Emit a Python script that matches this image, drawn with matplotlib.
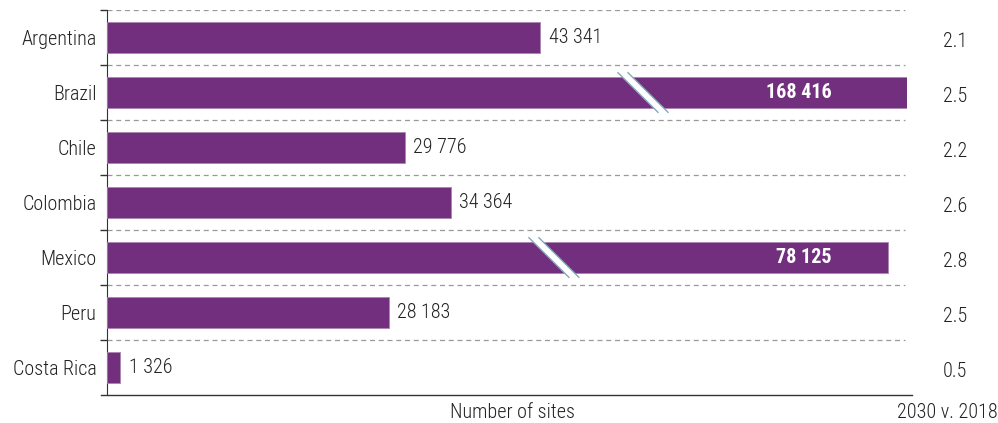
import matplotlib.pyplot as plt
from matplotlib.patches import Polygon
from matplotlib import font_manager

names = {f.name for f in font_manager.fontManager.ttflist}
fams = [f for f in ['Roboto Condensed', 'Liberation Sans Narrow', 'Roboto', 'DejaVu Sans'] if f in names]
plt.rcParams['font.family'] = fams
plt.rcParams['font.weight'] = 'light'

countries = ['Argentina', 'Brazil', 'Chile', 'Colombia', 'Mexico', 'Peru', 'Costa Rica']
sites = [43341, 168416, 29776, 34364, 78125, 28183, 1326]
ratio = ['2.1', '2.5', '2.2', '2.6', '2.8', '2.5', '0.5']
break_frac = {'Brazil': 0.67, 'Mexico': 0.572}

purple = '#722F7E'
txt = '#222222'
fs = 14.5
xmax = 80000

fig = plt.figure(figsize=(9.98, 4.23), dpi=100)
ax = fig.add_axes([107 / 998, 1 - 395 / 423, 800 / 998, 385 / 423])

ypos = list(range(len(countries)))
widths = [min(v, xmax) for v in sites]
ax.barh(ypos, widths, height=0.58, color=purple, edgecolor='#a985b0', linewidth=0.6, zorder=3)

for i, (c, v) in enumerate(zip(countries, sites)):
    lab = f'{v:,}'.replace(',', ' ')
    if c in break_frac:
        ax.text(0.906, i, lab, transform=ax.get_yaxis_transform(), ha='right', va='center',
                color='white', fontsize=fs, fontweight='bold', zorder=5)
        # break mark part way along the bar
        bx = widths[i] * break_frac[c]
        gw, sk, h = 1000, 2000, 0.36
        left = [(bx - sk - gw / 2, i - h), (bx + sk - gw / 2, i + h)]
        right = [(bx - sk + gw / 2, i - h), (bx + sk + gw / 2, i + h)]
        ax.add_patch(Polygon(left + right[::-1], closed=True, facecolor='white',
                             edgecolor='none', zorder=4))
        for ln in (left, right):
            ax.plot([p[0] for p in ln], [p[1] for p in ln], color='#86a8b8', lw=1.0, zorder=4)
    else:
        ax.annotate(lab, (v, i), xytext=(6, 0), textcoords='offset points', ha='left',
                    va='center', fontsize=fs, color=txt)
    ax.text(1.06, i + 0.07, ratio[i], transform=ax.get_yaxis_transform(), ha='center',
            va='center', fontsize=fs, color=txt)

# dashed separators
for b in range(len(countries)):
    ax.plot([0, 0.997], [b - 0.5, b - 0.5], transform=ax.get_yaxis_transform(),
            color='#999999', linestyle=(0, (4, 3)), linewidth=0.9, zorder=1)
ax.plot([-0.008, 1.006], [len(countries) - 0.5] * 2, transform=ax.get_yaxis_transform(),
        color='#333333', linewidth=1.0, clip_on=False)

ax.set_xlim(0, xmax)
ax.set_ylim(len(countries) - 0.5, -0.5)
ax.set_yticks(ypos)
ax.set_yticklabels(countries, fontsize=fs, color=txt)
ax.set_yticks([b - 0.5 for b in range(len(countries))], minor=True)
ax.tick_params(axis='y', which='major', length=0, pad=7.5)
ax.tick_params(axis='y', which='minor', length=5, width=1, color='#333333')
ax.set_xticks([])
for s in ['top', 'right', 'bottom']:
    ax.spines[s].set_visible(False)
ax.spines['left'].set_color('#333333')

fig.text(513 / 998, 1 - 412 / 423, 'Number of sites', ha='center', va='center', fontsize=fs, color=txt)
fig.text(947 / 998, 1 - 412 / 423, '2030 v. 2018', ha='center', va='center', fontsize=fs, color=txt)

fig.savefig('out.png', dpi=100)
